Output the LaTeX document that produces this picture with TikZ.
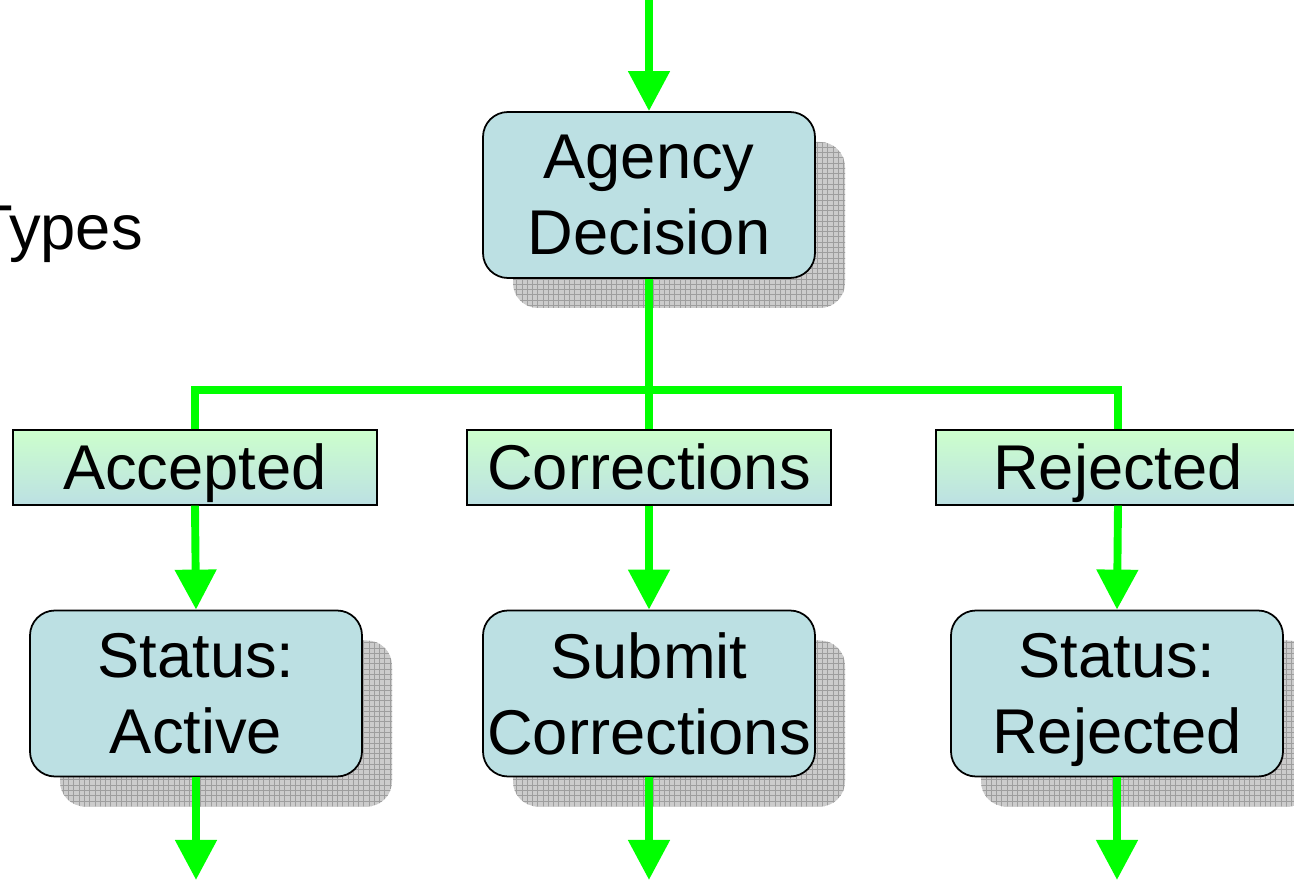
\documentclass[tikz,border=0pt]{standalone}
\usepackage{fontspec}
\setmainfont{Liberation Sans}
\usetikzlibrary{arrows.meta,
                shadows,
                patterns}

\definecolor{boxblue}{HTML}{BCE0E3}
\definecolor{boxgreen}{HTML}{CCFFCC}
\definecolor{flowgreen}{HTML}{00FF00}

\tikzset{
    bigtext/.style={font=\fontsize{36}{43}\selectfont},
    stepbox/.style={bigtext, draw, line width=1pt, rounded corners=0.5cm,
        fill=boxblue, minimum width=6.64cm, minimum height=3.32cm,
        inner sep=2pt, align=center, text depth=0pt,
        general shadow={shadow xshift=0.6cm, shadow yshift=-0.6cm,
            fill=black!20, postaction={pattern=grid, pattern color=black!38}}},
    outcome/.style={bigtext, draw, line width=0.8pt, top color=boxgreen,
        bottom color=boxblue, minimum width=7.28cm, minimum height=1.5cm,
        inner sep=2pt, text height=26pt, text depth=1pt},
    flow/.style={flowgreen, line width=4.5pt},
    flowarrow/.style={flow, -{Triangle[width=0.8cm, length=0.8cm]}}
}

\begin{document}
\begin{tikzpicture}
    \useasboundingbox (0, 0) rectangle (25.88, 17.6);

    \node [bigtext, anchor=base east] (types) at (2.98, 12.6) {Types};

    \node [stepbox] (agency) at (12.98, 13.7) {Agency\\Decision};

    \node [outcome] (accepted) at (3.9, 8.25) {Accepted};
    \node [outcome] (corrections) at (12.98, 8.25) {Corrections};
    \node [outcome] (rejected) at (22.36, 8.25) {Rejected};

    \node [stepbox] (active) at (3.92, 3.73) {Status:\\Active};
    \node [stepbox] (submit) at (12.98, 3.73) {Submit\\Corrections};
    \node [stepbox] (statusrej) at (22.34, 3.73) {Status:\\Rejected};

    \coordinate (entry) at (12.98, 17.6);
    \coordinate (split) at (12.98, 9.8);
    \coordinate (exitA) at (3.92, 0);
    \coordinate (exitB) at (12.98, 0);
    \coordinate (exitC) at (22.34, 0);

    % into the decision
    \draw [flowarrow] (entry) -- (agency.north);

    % branch to the three outcomes
    \draw [flow] (agency.south) -- (corrections.north);
    \draw [flow] (accepted.north) |- (split) -| (rejected.north);

    \draw [flowarrow] (accepted.south) -- (active.north);
    \draw [flowarrow] (corrections.south) -- (submit.north);
    \draw [flowarrow] (rejected.south) -- (statusrej.north);

    \draw [flowarrow] (active.south) -- (exitA);
    \draw [flowarrow] (submit.south) -- (exitB);
    \draw [flowarrow] (statusrej.south) -- (exitC);
\end{tikzpicture}
\end{document}
